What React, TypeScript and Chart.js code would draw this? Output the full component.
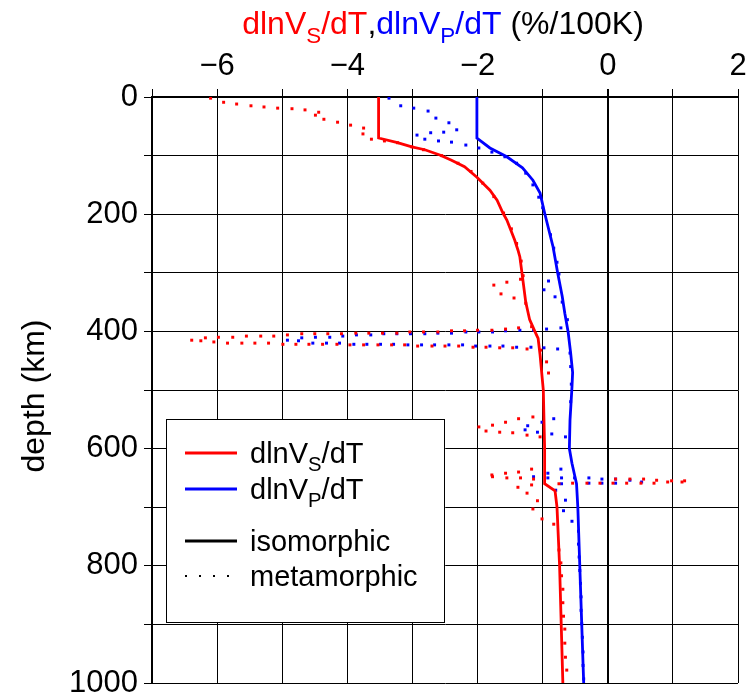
import React, { useEffect, useRef } from "react";
import { Chart, registerables } from "chart.js";
Chart.register(...registerables);

// ---- data ----
const sIsoDepth = [0, 70, 78, 85, 90, 99, 108, 119, 137, 159, 176, 198, 210, 244, 261, 273, 307, 350, 380, 400, 412, 440, 500, 600, 660, 672, 700, 800, 1000];
const sIsoValue = [-3.52, -3.52, -3.23, -3.01, -2.81, -2.58, -2.4, -2.2, -2.01, -1.81, -1.7, -1.61, -1.55, -1.43, -1.38, -1.35, -1.31, -1.26, -1.2, -1.12, -1.07, -1.04, -0.99, -0.97, -0.97, -0.81, -0.78, -0.74, -0.69];

const pIsoDepth = [0, 70, 87, 102, 121, 142, 164, 198, 256, 300, 340, 369, 400, 437, 470, 495, 551, 600, 625, 645, 660, 700, 800, 900, 1000];
const pIsoValue = [-2.01, -2.01, -1.81, -1.55, -1.31, -1.15, -1.04, -0.97, -0.84, -0.77, -0.7, -0.66, -0.61, -0.57, -0.54, -0.55, -0.58, -0.59, -0.55, -0.51, -0.48, -0.46, -0.43, -0.4, -0.37];

const sMetaValue = [
  -6.1, -5.9, -5.7, -5.48, -5.28, -5.07, -4.85, -4.65, -4.44, -4.49, -4.36, -4.15, -3.95, -3.75, -3.76, -3.63, -3.43, -3.23, -3.01, -2.83,
  -2.55, -2.3, -2.1, -1.92, -1.75, -1.6, -1.48, -1.4, -1.33, -1.3,
  -1.75, -1.55, -1.64, -1.44, -1.34, -1.26,
  -5.98, -5.76, -5.55, -5.33, -5.13, -4.92, -4.7, -4.5, -4.3, -4.09, -3.87, -3.67, -3.46, -3.24, -3.04, -2.83, -2.61, -2.4, -2.2, -2.0, -1.78, -1.57, -1.37, -1.17,
  -6.39, -6.25, -6.18, -6.05, -5.84, -5.62, -5.42, -5.21, -4.99, -4.79, -4.59, -4.38, -4.16, -3.96, -3.75, -3.53, -3.32, -3.12, -2.92, -2.7, -2.5, -2.29, -2.07, -1.87, -1.66, -1.46, -1.24, -1.03,
  -0.94, -0.91,
  -1.98, -1.77, -1.57, -1.37, -1.15, -1.87, -1.66, -1.46, -1.24, -1.04,
  -1.78, -1.77, -1.57, -1.55, -1.37, -1.34, -1.17, -1.14, -1.17, -1.38, -1.24, -1.08, -1.15, -1.01, -0.83, -0.75, -0.54, -0.32, -0.12, 0.08, 0.12, 0.29, 0.34, 0.51, 0.55, 0.71, 0.75, 0.92, 0.98, 1.14, 1.18,
  -0.75, -0.72, -0.71, -0.69, -0.69, -0.68, -0.66, -0.66, -0.65, -0.63,
];
const sMetaDepth = [
  2, 9, 12, 15, 17, 19, 20, 22, 26, 31, 38, 43, 48, 53, 63, 72, 75, 78, 85, 90,
  100, 113, 127, 147, 170, 198, 225, 250, 280, 305,
  321, 316, 336, 343, 311, 352,
  410, 410, 408, 408, 408, 406, 404, 404, 404, 404, 403, 403, 403, 403, 401, 401, 401, 399, 399, 398, 398, 396, 394, 392,
  415, 416, 411, 418, 420, 420, 420, 420, 422, 422, 422, 422, 422, 423, 423, 423, 423, 423, 425, 425, 425, 425, 427, 427, 428, 428, 430, 432,
  452, 471,
  563, 560, 555, 549, 546, 570, 572, 573, 577, 580,
  645, 648, 642, 650, 640, 650, 635, 652, 662, 666, 676, 689, 703, 720, 729, 660, 659, 659, 659, 659, 652, 659, 652, 659, 652, 659, 654, 657, 655, 657, 655,
  773, 795, 817, 840, 863, 886, 908, 932, 956, 978,
];

const pMetaValue = [
  -3.36, -3.18, -2.98, -2.76, -2.64, -2.44, -2.32, -2.93, -2.81, -2.72, -2.6, -2.52, -2.4, -2.18, -1.98, -1.78, -1.58, -1.4, -1.26, -1.15, -1.06, -1.0, -0.88, -0.83, -0.78, -0.75,
  -0.91, -0.98, -0.81, -0.7, -0.62,
  -4.92, -4.75, -4.7, -4.49, -4.27, -4.07, -3.86, -3.64, -3.44, -3.24, -3.03, -2.81, -2.61, -2.4, -2.18, -1.98, -1.77, -1.57, -1.35, -1.14, -0.94, -0.72,
  -4.53, -4.32, -4.12, -3.9, -3.7, -3.49, -3.29, -3.07, -2.86, -2.66, -2.44, -2.23, -2.03, -1.81, -1.61, -1.4, -1.18, -0.98, -0.77,
  -0.58, -0.57, -0.56, -0.57,
  -1.23, -1.27, -1.08, -1.01, -0.83, -0.86, -0.65,
  -1.14, -0.92, -0.92, -0.72, -0.71, -0.71, -0.51, -0.29, -0.29, -0.09, -0.09, 0.12, 0.12, 0.34, 0.52, -0.8, -0.65, -0.68, -0.55,
  -0.45, -0.45, -0.44, -0.43, -0.42, -0.41, -0.41, -0.4, -0.39, -0.38, -0.38, -0.37,
];
const pMetaDepth = [
  2, 15, 19, 24, 36, 44, 56, 65, 72, 61, 75, 60, 77, 82, 87, 94, 102, 113, 130, 150, 171, 189, 235, 258, 282, 302,
  314, 329, 341, 350, 380,
  415, 416, 411, 410, 410, 408, 406, 406, 404, 404, 404, 404, 403, 403, 401, 401, 401, 399, 398, 398, 396, 394,
  420, 420, 420, 422, 422, 422, 422, 423, 423, 423, 423, 423, 425, 425, 425, 427, 427, 428, 430,
  437, 460, 490, 520,
  561, 568, 572, 555, 549, 575, 580,
  648, 642, 650, 635, 650, 660, 650, 650, 659, 652, 659, 652, 659, 654, 657, 671, 688, 706, 724,
  741, 763, 785, 808, 830, 853, 876, 899, 922, 947, 970, 993,
];

const xMin = -7;
const xMax = 2;
const yMin = 0;
const yMax = 1000;

const RED = "#ff0000";
const BLUE = "#0000ff";
const FONT = "'Liberation Sans', Arial, Helvetica, sans-serif";

type Seg = { t: string; c: string; sub?: boolean };

function richWidth(ctx: CanvasRenderingContext2D, segs: Seg[], size: number) {
  let w = 0;
  for (const s of segs) {
    ctx.font = `${s.sub ? size * 0.7 : size}px ${FONT}`;
    w += ctx.measureText(s.t).width;
  }
  return w;
}

function drawRich(ctx: CanvasRenderingContext2D, segs: Seg[], x: number, y: number, size: number) {
  ctx.textBaseline = "alphabetic";
  ctx.textAlign = "left";
  let cx = x;
  for (const s of segs) {
    const fs = s.sub ? size * 0.7 : size;
    ctx.font = `${fs}px ${FONT}`;
    ctx.fillStyle = s.c;
    ctx.fillText(s.t, cx, s.sub ? y + size * 0.28 : y);
    cx += ctx.measureText(s.t).width;
  }
}

const textPlugin = {
  id: "texts",
  afterDraw(chart: any) {
    const ctx: CanvasRenderingContext2D = chart.ctx;
    ctx.save();
    // title
    const title: Seg[] = [
      { t: "dlnV", c: RED },
      { t: "S", c: RED, sub: true },
      { t: "/dT", c: RED },
      { t: ",", c: "#000" },
      { t: "dlnV", c: BLUE },
      { t: "P", c: BLUE, sub: true },
      { t: "/dT", c: BLUE },
      { t: " (%/100K)", c: "#000" },
    ];
    const tsize = 32;
    const tw = richWidth(ctx, title, tsize);
    drawRich(ctx, title, 443 - tw / 2, 34, tsize);

    // y title
    ctx.save();
    ctx.translate(44, 396);
    ctx.rotate(-Math.PI / 2);
    ctx.font = `32px ${FONT}`;
    ctx.fillStyle = "#000";
    ctx.textAlign = "center";
    ctx.textBaseline = "alphabetic";
    ctx.fillText("depth (km)", 0, 0);
    ctx.restore();

    // legend
    const bx = 166, by = 419, bw = 278, bh = 203;
    ctx.fillStyle = "#fff";
    ctx.fillRect(bx, by, bw, bh);
    ctx.strokeStyle = "#000";
    ctx.lineWidth = 1;
    ctx.strokeRect(bx + 0.5, by + 0.5, bw, bh);
    const lx1 = 185, lx2 = 237, tx = 250, ls = 29;
    const rows = [
      { y: 453, color: RED, dotted: false, segs: [{ t: "dlnV", c: "#000" }, { t: "S", c: "#000", sub: true }, { t: "/dT", c: "#000" }] },
      { y: 489, color: BLUE, dotted: false, segs: [{ t: "dlnV", c: "#000" }, { t: "P", c: "#000", sub: true }, { t: "/dT", c: "#000" }] },
      { y: 541, color: "#000", dotted: false, segs: [{ t: "isomorphic", c: "#000" }] },
      { y: 576, color: "#000", dotted: true, segs: [{ t: "metamorphic", c: "#000" }] },
    ];
    for (const r of rows) {
      ctx.fillStyle = r.color;
      if (r.dotted) {
        for (const dx of [186, 200, 214, 228]) ctx.fillRect(dx - 1, r.y - 1, 2, 2);
      } else {
        ctx.strokeStyle = r.color;
        ctx.lineWidth = 3;
        ctx.beginPath();
        ctx.moveTo(lx1, r.y);
        ctx.lineTo(lx2, r.y);
        ctx.stroke();
      }
      drawRich(ctx, r.segs as Seg[], tx, r.y + 10, ls);
    }
    ctx.restore();
  },
};

function pts(vals: number[], deps: number[]) {
  return vals.map((v, i) => ({ x: v, y: deps[i] }));
}

export default function App() {
  const ref = useRef<HTMLCanvasElement | null>(null);
  useEffect(() => {
    if (!ref.current) return;
    const chart = new Chart(ref.current, {
      type: "scatter",
      data: {
        datasets: [
          {
            label: "S iso",
            data: pts(sIsoValue, sIsoDepth),
            showLine: true,
            borderColor: RED,
            borderWidth: 2.8,
            pointRadius: 0,
            tension: 0,
          },
          {
            label: "P iso",
            data: pts(pIsoValue, pIsoDepth),
            showLine: true,
            borderColor: BLUE,
            borderWidth: 2.8,
            pointRadius: 0,
            tension: 0,
          },
          {
            label: "S meta",
            data: pts(sMetaValue, sMetaDepth),
            showLine: false,
            pointStyle: "rect",
            pointRadius: 2.1,
            pointBorderWidth: 0,
            backgroundColor: RED,
            borderColor: RED,
          },
          {
            label: "P meta",
            data: pts(pMetaValue, pMetaDepth),
            showLine: false,
            pointStyle: "rect",
            pointRadius: 2.1,
            pointBorderWidth: 0,
            backgroundColor: BLUE,
            borderColor: BLUE,
          },
        ],
      },
      options: {
        animation: false,
        responsive: true,
        maintainAspectRatio: false,
        layout: { padding: { left: 0, top: 0, right: 8, bottom: 15 } },
        plugins: { legend: { display: false }, tooltip: { enabled: false }, title: { display: false } },
        scales: {
          x: {
            type: "linear",
            position: "top",
            min: xMin,
            max: xMax,
            afterFit(scale: any) {
              scale.height = 97;
              scale.paddingLeft = 0;
              scale.paddingRight = 0;
            },
            ticks: {
              stepSize: 1,
              autoSkip: false,
              maxRotation: 0,
              padding: 4,
              color: "#000",
              font: { family: FONT, size: 31 },
              callback: (v: any) => {
                const n = Number(v);
                if (Math.round(n) % 2 !== 0) return "";
                return n < 0 ? "\u2212" + Math.abs(n) : String(n);
              },
            },
            grid: {
              color: "#000",
              lineWidth: (c: any) => (c.tick && c.tick.value === 0 ? 2 : 1),
              tickLength: 8,
              drawTicks: true,
            },
            border: { display: true, color: "#000", width: 2 },
          },
          y: {
            type: "linear",
            reverse: true,
            min: yMin,
            max: yMax,
            afterFit(scale: any) {
              scale.width = 152;
              scale.paddingTop = 0;
              scale.paddingBottom = 0;
            },
            ticks: {
              stepSize: 100,
              autoSkip: false,
              padding: 6,
              color: "#000",
              font: { family: FONT, size: 31 },
              callback: (v: any) => (Number(v) % 200 === 0 ? String(v) : ""),
            },
            grid: { color: "#000", lineWidth: 1, tickLength: 8, drawTicks: true },
            border: { display: true, color: "#000", width: 2 },
          },
        },
      },
      plugins: [textPlugin],
    } as any);
    return () => chart.destroy();
  }, []);
  return (
    <div style={{ position: "absolute", left: 0, top: 0, width: 746, height: 698, background: "#fff" }}>
      <canvas ref={ref} />
    </div>
  );
}
